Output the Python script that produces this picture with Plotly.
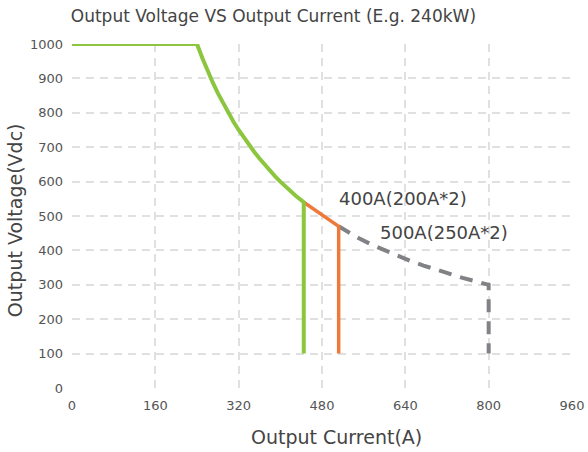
import plotly.graph_objects as go

# Green: 400A(200A*2) charger curve (Output Current A, Output Voltage Vdc)
green_i = [0, 240, 250, 260, 270, 280, 290, 300, 310, 320, 330, 340, 350, 360,
           370, 380, 390, 400, 410, 420, 430, 445, 445]
green_v = [1000, 1000, 960, 923, 889, 857, 828, 800, 774, 750, 727, 706, 686, 667,
           649, 632, 615, 600, 585, 571, 558, 540, 100]

# Orange: extension up to 500A
orange_i = [445, 512, 512]
orange_v = [540, 470, 100]

# Gray dashed: extension up to 800A
gray_i = [512, 530, 550, 575, 600, 625, 650, 675, 700, 725, 750, 775, 800, 800]
gray_v = [470, 453, 436, 417, 400, 384, 369, 356, 343, 331, 320, 310, 300, 100]

labels = ["400A(200A*2)", "500A(250A*2)"]
label_i = [509, 587]
label_v = [552, 453]

x_ticks = [0, 160, 320, 480, 640, 800, 960]
y_ticks = [0, 100, 200, 300, 400, 500, 600, 700, 800, 900, 1000]

FONT = "DejaVu Sans"
DARK = "#444444"
TICK = "#555555"

fig = go.Figure()
fig.add_trace(go.Scatter(x=gray_i, y=gray_v, mode="lines",
                         line=dict(color="#808285", width=4, dash="13px,9px"),
                         showlegend=False, hoverinfo="skip"))
fig.add_trace(go.Scatter(x=orange_i, y=orange_v, mode="lines",
                         line=dict(color="#ed7a3a", width=3.5),
                         showlegend=False, hoverinfo="skip"))
fig.add_trace(go.Scatter(x=green_i, y=green_v, mode="lines",
                         line=dict(color="#8cc63f", width=4),
                         showlegend=False, hoverinfo="skip"))

for t, xi, yv in zip(labels, label_i, label_v):
    fig.add_annotation(x=xi, y=yv, text=t, showarrow=False, xanchor="left",
                       yanchor="middle", font=dict(family=FONT, size=18, color=DARK))

# axis titles
fig.add_annotation(xref="paper", yref="paper", x=0.528, y=-0.142, text="Output Current(A)",
                   showarrow=False, xanchor="center", yanchor="middle",
                   font=dict(family=FONT, size=19, color=DARK))
fig.add_annotation(xref="paper", yref="paper", x=-0.114, y=0.488, text="Output Voltage(Vdc)",
                   showarrow=False, xanchor="center", yanchor="middle", textangle=-90,
                   font=dict(family=FONT, size=19, color=DARK))

fig.update_layout(
    width=588, height=452,
    margin=dict(l=72, r=16, t=44, b=64),
    paper_bgcolor="white", plot_bgcolor="white",
    title=dict(text="Output Voltage VS Output Current (E.g. 240kW)",
               x=0.465, xanchor="center", y=0.9646, yanchor="middle",
               font=dict(family=FONT, size=17, color=DARK)),
    font=dict(family=FONT, color=TICK, size=13),
)
fig.update_xaxes(range=[0, 960], tickvals=x_ticks, showgrid=True, gridcolor="#e0e0e0",
                 griddash="8px,6px", gridwidth=2, zeroline=False, showline=False,
                 ticks="", ticklabelstandoff=8, automargin=False)
fig.update_yaxes(range=[0, 1000], tickvals=y_ticks, showgrid=True, gridcolor="#e0e0e0",
                 griddash="8px,6px", gridwidth=2, zeroline=False, showline=False,
                 ticks="", ticklabelstandoff=8, automargin=False)

fig.write_html("out.html",
               config={"displayModeBar": False, "staticPlot": True},
               post_script="document.body.style.margin='0';document.body.style.overflow='hidden';")
